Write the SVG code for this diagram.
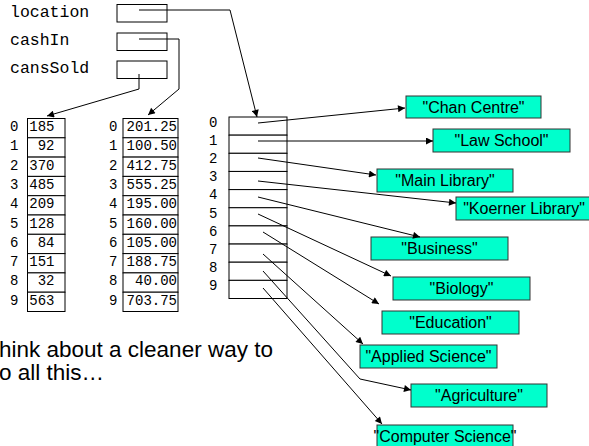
<svg xmlns="http://www.w3.org/2000/svg" width="589" height="446" viewBox="0 0 589 446">
<defs>
<marker id="ah" viewBox="0 0 10 10" refX="10" refY="5" markerWidth="9" markerHeight="7" markerUnits="userSpaceOnUse" orient="auto">
<path d="M0,0 L10,5 L0,10 z" fill="#000"/>
</marker>
<style>
.lbl{font-family:"Liberation Mono","DejaVu Sans Mono",monospace;font-size:16.5px;fill:#000}
.mono{font-family:"Liberation Mono","DejaVu Sans Mono",monospace;font-size:14px;fill:#000}
.cell{fill:#fff;stroke:#000;stroke-width:1}
.str rect{fill:#00FFCC;stroke:#333;stroke-width:1}
.str text{font-family:"Liberation Sans",Arial,sans-serif;font-size:16px;fill:#000;text-anchor:middle}
.con{fill:none;stroke:#000;stroke-width:1}
.note{font-family:"Liberation Sans",Arial,sans-serif;font-size:22.5px;fill:#000}
</style>
</defs>
<rect width="589" height="446" fill="#fff"/>

<g id="vars">
<text class="lbl" x="10" y="17">location</text>
<text class="lbl" x="10" y="45">cashIn</text>
<text class="lbl" x="10" y="73">cansSold</text>
<rect class="cell" x="117" y="4.5" width="50" height="17.5"/>
<rect class="cell" x="117" y="33" width="50" height="17.5"/>
<rect class="cell" x="117" y="61" width="50" height="17.5"/>
</g>

<g id="cansSoldArray">
<rect class="cell" x="27.5" y="118.5" width="37.5" height="19.3"/>
<rect class="cell" x="27.5" y="137.8" width="37.5" height="19.3"/>
<rect class="cell" x="27.5" y="157.1" width="37.5" height="19.3"/>
<rect class="cell" x="27.5" y="176.4" width="37.5" height="19.3"/>
<rect class="cell" x="27.5" y="195.7" width="37.5" height="19.3"/>
<rect class="cell" x="27.5" y="215" width="37.5" height="19.3"/>
<rect class="cell" x="27.5" y="234.3" width="37.5" height="19.3"/>
<rect class="cell" x="27.5" y="253.6" width="37.5" height="19.3"/>
<rect class="cell" x="27.5" y="272.9" width="37.5" height="19.3"/>
<rect class="cell" x="27.5" y="292.2" width="37.5" height="19.3"/>
<g class="mono">
<text x="10" y="131">0</text><text x="10" y="150.3">1</text><text x="10" y="169.6">2</text><text x="10" y="188.9">3</text><text x="10" y="208.2">4</text><text x="10" y="227.5">5</text><text x="10" y="246.8">6</text><text x="10" y="266.1">7</text><text x="10" y="285.4">8</text><text x="10" y="304.7">9</text>
</g>
<g class="mono" text-anchor="end">
<text x="54.5" y="131">185</text><text x="54.5" y="150.3">92</text><text x="54.5" y="169.6">370</text><text x="54.5" y="188.9">485</text><text x="54.5" y="208.2">209</text><text x="54.5" y="227.5">128</text><text x="54.5" y="246.8">84</text><text x="54.5" y="266.1">151</text><text x="54.5" y="285.4">32</text><text x="54.5" y="304.7">563</text>
</g>
</g>

<g id="cashInArray">
<rect class="cell" x="123" y="118.5" width="55" height="19.3"/>
<rect class="cell" x="123" y="137.8" width="55" height="19.3"/>
<rect class="cell" x="123" y="157.1" width="55" height="19.3"/>
<rect class="cell" x="123" y="176.4" width="55" height="19.3"/>
<rect class="cell" x="123" y="195.7" width="55" height="19.3"/>
<rect class="cell" x="123" y="215" width="55" height="19.3"/>
<rect class="cell" x="123" y="234.3" width="55" height="19.3"/>
<rect class="cell" x="123" y="253.6" width="55" height="19.3"/>
<rect class="cell" x="123" y="272.9" width="55" height="19.3"/>
<rect class="cell" x="123" y="292.2" width="55" height="19.3"/>
<g class="mono">
<text x="109" y="131">0</text><text x="109" y="150.3">1</text><text x="109" y="169.6">2</text><text x="109" y="188.9">3</text><text x="109" y="208.2">4</text><text x="109" y="227.5">5</text><text x="109" y="246.8">6</text><text x="109" y="266.1">7</text><text x="109" y="285.4">8</text><text x="109" y="304.7">9</text>
</g>
<g class="mono" text-anchor="end">
<text x="177" y="131">201.25</text><text x="177" y="150.3">100.50</text><text x="177" y="169.6">412.75</text><text x="177" y="188.9">555.25</text><text x="177" y="208.2">195.00</text><text x="177" y="227.5">160.00</text><text x="177" y="246.8">105.00</text><text x="177" y="266.1">188.75</text><text x="177" y="285.4">40.00</text><text x="177" y="304.7">703.75</text>
</g>
</g>

<g id="locationArray">
<rect class="cell" x="229" y="117" width="58" height="18.15"/>
<rect class="cell" x="229" y="135.15" width="58" height="18.15"/>
<rect class="cell" x="229" y="153.3" width="58" height="18.15"/>
<rect class="cell" x="229" y="171.45" width="58" height="18.15"/>
<rect class="cell" x="229" y="189.6" width="58" height="18.15"/>
<rect class="cell" x="229" y="207.75" width="58" height="18.15"/>
<rect class="cell" x="229" y="225.9" width="58" height="18.15"/>
<rect class="cell" x="229" y="244.05" width="58" height="18.15"/>
<rect class="cell" x="229" y="262.2" width="58" height="18.15"/>
<rect class="cell" x="229" y="280.35" width="58" height="18.15"/>
<g class="mono">
<text x="209" y="127">0</text><text x="209" y="145.1">1</text><text x="209" y="163.2">2</text><text x="209" y="181.3">3</text><text x="209" y="199.4">4</text><text x="209" y="217.5">5</text><text x="209" y="235.6">6</text><text x="209" y="253.7">7</text><text x="209" y="271.8">8</text><text x="209" y="289.9">9</text>
</g>
</g>

<g id="s0" class="str"><rect x="406" y="96" width="135" height="22"/><text x="473.5" y="113">"Chan Centre"</text></g>
<g id="s1" class="str"><rect x="433" y="129" width="137" height="23"/><text x="501.5" y="146">"Law School"</text></g>
<g id="s2" class="str"><rect x="377" y="169" width="136" height="23"/><text x="445" y="186">"Main Library"</text></g>
<g id="s3" class="str"><rect x="456" y="197" width="136" height="23"/><text x="524" y="214">"Koerner Library"</text></g>
<g id="s4" class="str"><rect x="371" y="237" width="137" height="23"/><text x="439.5" y="254">"Business"</text></g>
<g id="s5" class="str"><rect x="393" y="277" width="137" height="23"/><text x="461.5" y="294">"Biology"</text></g>
<g id="s6" class="str"><rect x="382" y="311" width="137" height="23"/><text x="450.5" y="328">"Education"</text></g>
<g id="s7" class="str"><rect x="360" y="345" width="137" height="23"/><text x="428.5" y="362">"Applied Science"</text></g>
<g id="s8" class="str"><rect x="411" y="384" width="136" height="23"/><text x="479" y="401">"Agriculture"</text></g>
<g id="s9" class="str"><rect x="377" y="425" width="136" height="23"/><text x="445" y="442">"Computer Science"</text></g>

<g id="connectors" class="con">
<polyline points="139,10 230,10 257,117" marker-end="url(#ah)"/>
<polyline points="139,39 179,39 179,89 148,115" marker-end="url(#ah)"/>
<polyline points="139,74 139,89 47,116" marker-end="url(#ah)"/>
<line x1="258" y1="123" x2="405" y2="108" marker-end="url(#ah)"/>
<line x1="258" y1="141" x2="433" y2="141" marker-end="url(#ah)"/>
<line x1="258" y1="158" x2="376" y2="175" marker-end="url(#ah)"/>
<line x1="258" y1="181" x2="456" y2="203" marker-end="url(#ah)"/>
<line x1="258" y1="197" x2="420" y2="237" marker-end="url(#ah)"/>
<line x1="258" y1="214" x2="391" y2="276" marker-end="url(#ah)"/>
<line x1="263" y1="232" x2="379" y2="304" marker-end="url(#ah)"/>
<line x1="263" y1="254" x2="363" y2="344" marker-end="url(#ah)"/>
<polyline points="263,271 360,379 411,390" marker-end="url(#ah)"/>
<line x1="263" y1="288" x2="382" y2="424" marker-end="url(#ah)"/>
</g>

<g id="note">
<text class="note" x="-1" y="357">hink about a cleaner way to</text>
<text class="note" x="-1" y="380">o all this…</text>
</g>
</svg>
